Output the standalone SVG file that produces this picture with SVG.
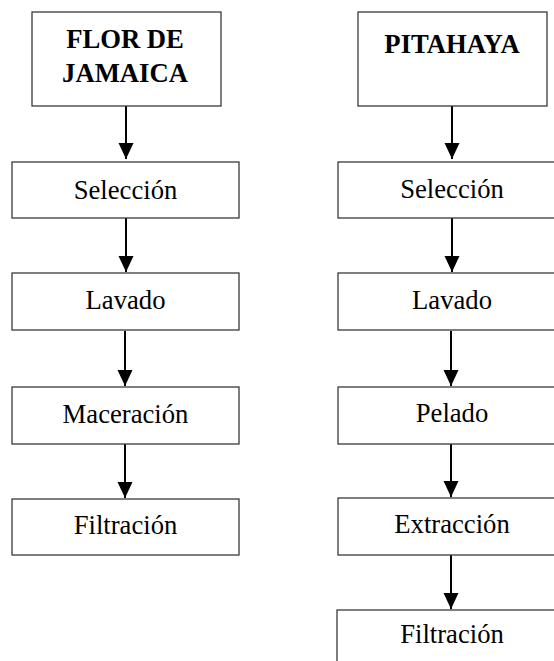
<svg xmlns="http://www.w3.org/2000/svg" width="554" height="661" viewBox="0 0 554 661">
<style>
.box{fill:#fff;stroke:#3a3a3a;stroke-width:1.3}
.t{font-family:"Liberation Serif","Times New Roman",serif;font-size:26.67px;fill:#000;text-anchor:middle}
.b{font-weight:bold}
.c{stroke:#000;stroke-width:2;fill:none}
</style>
<defs>
<marker id="ah" markerUnits="userSpaceOnUse" markerWidth="17" markerHeight="16" refX="16" refY="7.5" orient="auto" viewBox="0 0 17 16">
<path d="M0,0 L16,7.5 L0,15 z" fill="#000"/>
</marker>
</defs>
<rect width="554" height="661" fill="#fff"/>
<g id="connectors">
<line class="c" x1="126" y1="106" x2="126" y2="159" marker-end="url(#ah)"/>
<line class="c" x1="126" y1="218" x2="126" y2="272" marker-end="url(#ah)"/>
<line class="c" x1="125" y1="331" x2="125" y2="386" marker-end="url(#ah)"/>
<line class="c" x1="125" y1="444" x2="125" y2="498" marker-end="url(#ah)"/>
<line class="c" x1="452" y1="106" x2="452" y2="159" marker-end="url(#ah)"/>
<line class="c" x1="452" y1="218" x2="452" y2="272" marker-end="url(#ah)"/>
<line class="c" x1="451" y1="331" x2="451" y2="386" marker-end="url(#ah)"/>
<line class="c" x1="451" y1="444" x2="451" y2="497" marker-end="url(#ah)"/>
<line class="c" x1="451" y1="555" x2="451" y2="609" marker-end="url(#ah)"/>
</g>
<g id="flor">
<rect class="box" x="32" y="12" width="189" height="94"/>
<text class="t b" x="125" y="48">FLOR DE</text>
<text class="t b" x="125" y="82">JAMAICA</text>
</g>
<g id="l-seleccion">
<rect class="box" x="12" y="162" width="227" height="56"/>
<text class="t" x="125.5" y="199">Selección</text>
</g>
<g id="l-lavado">
<rect class="box" x="12" y="273" width="227" height="57"/>
<text class="t" x="125.5" y="309">Lavado</text>
</g>
<g id="l-maceracion">
<rect class="box" x="12" y="387" width="227" height="57"/>
<text class="t" x="125.5" y="423">Maceración</text>
</g>
<g id="l-filtracion">
<rect class="box" x="12" y="499" width="227" height="56"/>
<text class="t" x="125.5" y="534">Filtración</text>
</g>
<g id="pitahaya">
<rect class="box" x="358" y="12" width="189" height="94"/>
<text class="t b" x="452" y="53">PITAHAYA</text>
</g>
<g id="r-seleccion">
<rect class="box" x="338" y="162" width="228" height="56"/>
<text class="t" x="452" y="198">Selección</text>
</g>
<g id="r-lavado">
<rect class="box" x="338" y="273" width="228" height="57"/>
<text class="t" x="452" y="309">Lavado</text>
</g>
<g id="r-pelado">
<rect class="box" x="338" y="387" width="228" height="57"/>
<text class="t" x="452" y="422">Pelado</text>
</g>
<g id="r-extraccion">
<rect class="box" x="338" y="498" width="228" height="57"/>
<text class="t" x="452" y="533">Extracción</text>
</g>
<g id="r-filtracion">
<rect class="box" x="337" y="610" width="229" height="60"/>
<text class="t" x="452" y="643">Filtración</text>
</g>
</svg>
